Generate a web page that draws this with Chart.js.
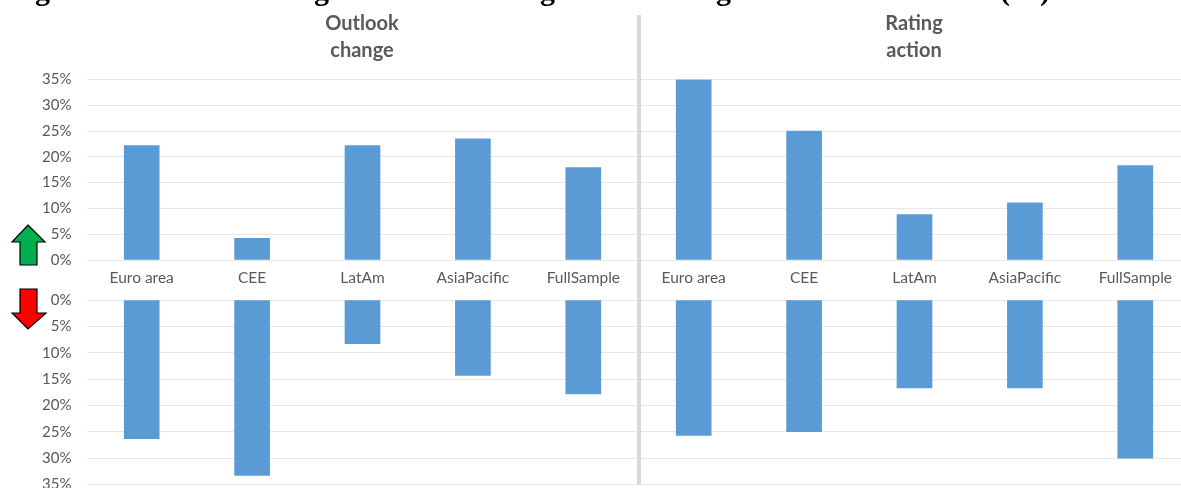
<!DOCTYPE html>
<html lang="en">
  <head>
    <meta charset="UTF-8" />
    <title>Outlook change and rating action</title>
    <script src="https://cdn.jsdelivr.net/npm/chart.js"></script>
    <style>
      html, body { margin: 0; padding: 0; background: #fff; overflow: hidden; }
      #page { position: relative; width: 1181px; height: 488px; overflow: hidden; font-family: Lato, sans-serif; }
      #upWrap { position: absolute; left: 0; top: 0; width: 1200px; height: 290px; }
      #downWrap { position: absolute; left: 0; top: 270px; width: 1200px; height: 245px; }
      .panelTitle { position: absolute; top: 9px; width: 200px; text-align: center; font-weight: 700; font-size: 20px; line-height: 27px; color: #595959; }
      #divider { position: absolute; left: 637px; top: 15px; width: 4px; height: 470px; background: #d9d9d9; }
      #arrows { position: absolute; left: 0; top: 0; }
      .headLine { position: absolute; font-family: "Liberation Serif", serif; font-weight: 700; font-size: 30px; line-height: 30px; top: -25px; color: #000; }
    </style>
  </head>

  <body>
    <div id="page">
      <div id="upWrap"><canvas id="upChart"></canvas></div>
      <div id="downWrap"><canvas id="downChart"></canvas></div>
      <div id="divider"></div>
      <div class="panelTitle" style="left: 262px">Outlook<br />change</div>
      <div class="panelTitle" style="left: 814px">Rating<br />action</div>
      <svg id="arrows" width="60" height="340">
        <polygon points="28,225 45,242 37,242 37,265 20,265 20,242 12,242" fill="#00b050" stroke="#000" stroke-width="1.2" />
        <polygon points="20,289 37,289 37,313 46,313 28,329 12,313 20,313" fill="#ff0000" stroke="#000" stroke-width="1.2" />
      </svg>
      <span class="headLine" style="left: 35px">g</span>
      <span class="headLine" style="left: 314px">g</span>
      <span class="headLine" style="left: 540px">g</span>
      <span class="headLine" style="left: 716px">g</span>
      <span class="headLine" style="left: 1000px">(%)</span>
    </div>

    <script>
      const categories = [
        "Euro area", "CEE", "LatAm", "AsiaPacific", "FullSample",
        "Euro area", "CEE", "LatAm", "AsiaPacific", "FullSample",
      ];
      // share of upward moves: five outlook changes, then five rating actions
      const upValues = [22.2, 4.2, 22.2, 23.5, 17.9, 35, 25, 8.8, 11.1, 18.3];
      // share of downward moves, same order
      const downValues = [26.3, 33.3, 8.3, 14.3, 17.8, 25.7, 25, 16.7, 16.7, 30];
      const tickStep = 5;
      const tickMax = 35;

      const barColor = "#5b9bd5";
      const gridColor = "#e7e7e7";
      const textColor = "#595959";

      Chart.defaults.font.family = "Lato, sans-serif";
      Chart.defaults.font.size = 15;
      Chart.defaults.color = textColor;

      function makeChart(canvasId, values, reversed, padding, showLabels) {
        return new Chart(document.getElementById(canvasId), {
          type: "bar",
          data: {
            labels: categories,
            datasets: [
              {
                data: values,
                backgroundColor: barColor,
                barThickness: 35,
              },
            ],
          },
          options: {
            responsive: true,
            maintainAspectRatio: false,
            animation: false,
            layout: { padding: padding, autoPadding: false },
            plugins: { legend: { display: false }, tooltip: { enabled: false } },
            scales: {
              x: {
                grid: { display: false, drawTicks: false },
                border: { display: false },
                ticks: {
                  display: showLabels,
                  padding: 9,
                  maxRotation: 0,
                  autoSkip: false,
                  font: { size: 15.5 },
                },
                afterFit: (scale) => {
                  scale.height = showLabels ? 30 : 0;
                },
              },
              y: {
                min: 0,
                max: tickMax,
                reverse: reversed,
                grid: { color: gridColor, drawTicks: false },
                border: { display: false },
                ticks: {
                  stepSize: tickStep,
                  padding: 15,
                  callback: (value) => value + "%",
                },
                afterFit: (scale) => {
                  scale.width = 86;
                },
              },
            },
          },
        });
      }

      makeChart("upChart", upValues, false, { top: 79.5, right: 9.5, bottom: 0, left: 0.5 }, true);
      // lower panel runs off the bottom of the page, the wrapper clips it
      makeChart("downChart", downValues, true, { top: 30, right: 9.5, bottom: 30.5, left: 0.5 }, false);
    </script>
  </body>
</html>
